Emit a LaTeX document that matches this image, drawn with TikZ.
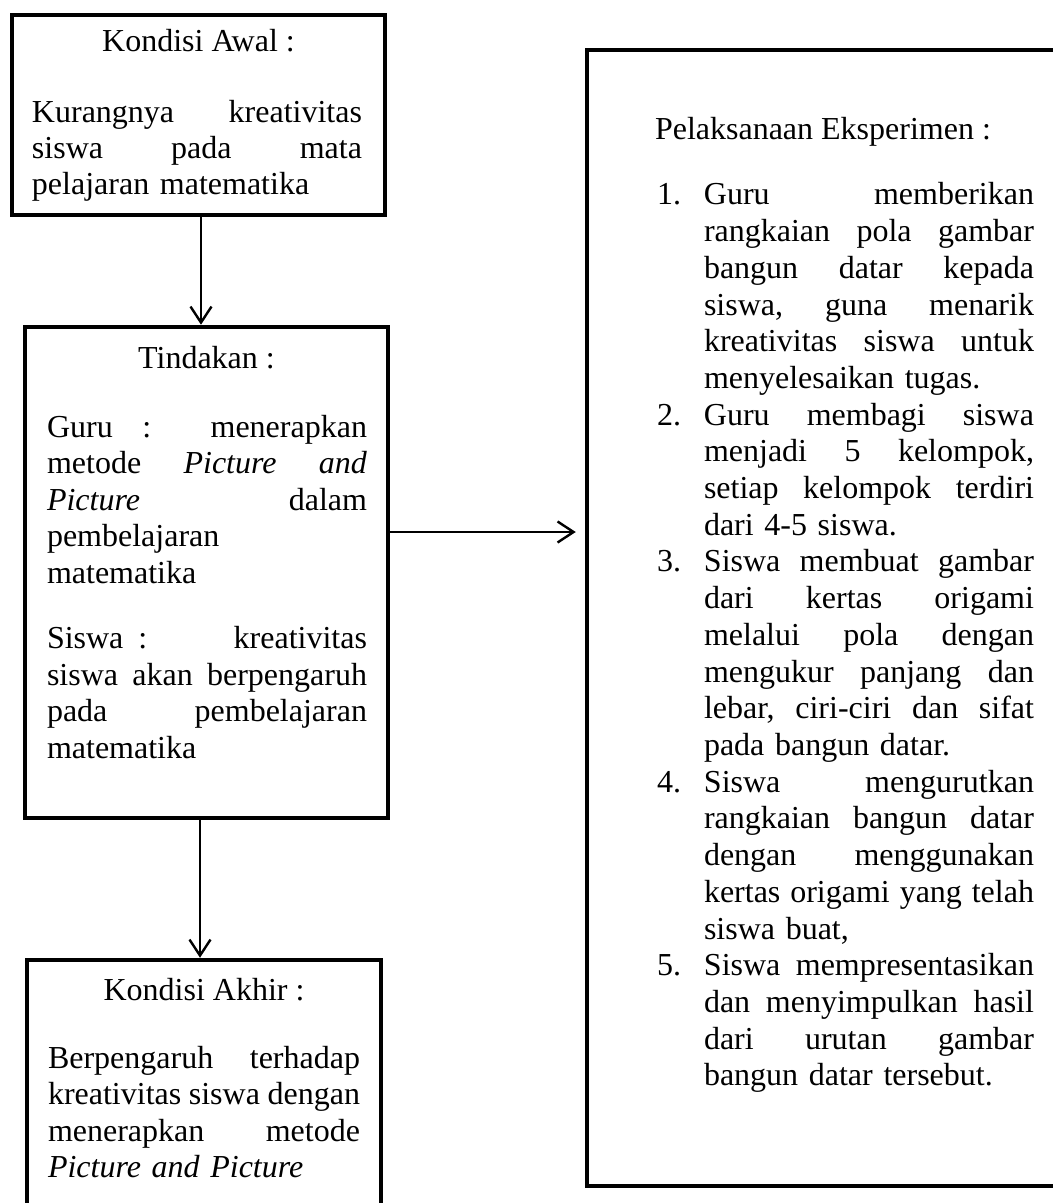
\documentclass[tikz,border=0pt]{standalone}
\usepackage{fontspec}
\setmainfont{Liberation Serif}
\usetikzlibrary{arrows.meta,fit}
\newcommand{\J}[2]{\leavevmode\hbox to #1{#2}}
\newcommand{\It}[2]{\leavevmode\hbox to 23.5pt{#1\hss}\hbox to 165pt{#2}}
\newcommand{\Ic}[1]{\leavevmode\hspace*{23.5pt}\hbox to 165pt{#1}}
\newcommand{\In}[1]{\leavevmode\hspace*{23.5pt}#1}
\tikzset{
  box/.style={draw, line width=2.25pt, inner sep=0pt},
  arr/.style={line width=1.2pt, -{Straight Barb[length=8pt,width=10.5pt]}},
  txt/.style={inner sep=0pt, outer sep=0pt, font=\fontsize{16pt}{18.3pt}\selectfont},
  body/.style={txt, anchor=base west, align=left},
  head/.style={txt, anchor=base},
}
\begin{document}
\begin{tikzpicture}[x=0.5pt,y=-0.5pt]
\useasboundingbox (0,0) rectangle (1053,1203);
\clip (0,0) rectangle (1053,1203);
% boxes
\node[box, fit={(12,15) (385,215)}] (b1) {};
\node[box, fit={(25,327) (388,818)}] (b2) {};
\node[box, fit={(27,960) (381,1225)}] (b3) {};
\node[box, fit={(587,50) (1080,1186)}] (rb) {};
% headings
\node[head] (h1) at (198.5,52) {Kondisi Awal :};
\node[head] (h2) at (206.5,368) {Tindakan :};
\node[head] (h3) at (204,1000) {Kondisi Akhir :};
\node[txt, anchor=base west] (h4) at (655,140) {Pelaksanaan Eksperimen :};
% bodies
\node[body, text width=165pt, font=\fontsize{16pt}{18pt}\selectfont] (t1) at (32,123)
  {\J{165pt}{Kurangnya\hfill kreativitas}\\
   \J{165pt}{siswa\hfill pada\hfill mata}\\
   pelajaran matematika};
\node[body, text width=160pt] (t2) at (47,437)
  {\J{160pt}{Guru\hfill:\hfill\hfill menerapkan}\\
   \J{160pt}{metode\hfill\textit{Picture\hfill and}}\\
   \J{160pt}{\textit{Picture}\hfill dalam}\\
   pembelajaran\\
   matematika\\[14.2pt]
   \J{160pt}{Siswa\hspace{7.5pt}:\hfill kreativitas}\\
   \J{160pt}{siswa\hfill akan\hfill berpengaruh}\\
   \J{160pt}{pada\hfill pembelajaran}\\
   matematika};
\node[body, text width=157pt] (t3) at (48,1068)
  {\J{156pt}{Berpengaruh\hfill terhadap}\\
   \J{156pt}{kreativitas\hfill siswa\hfill dengan}\\
   \J{156pt}{menerapkan\hfill metode}\\
   \textit{Picture and Picture}};
\node[body, text width=188.5pt, font=\fontsize{16pt}{18.35pt}\selectfont] (t4) at (657,205)
  {\It{1.}{Guru\hfill memberikan}\\
   \Ic{rangkaian\hfill pola\hfill gambar}\\
   \Ic{bangun\hfill datar\hfill kepada}\\
   \Ic{siswa,\hfill guna\hfill menarik}\\
   \Ic{kreativitas\hfill siswa\hfill untuk}\\
   \In{menyelesaikan tugas.}\\
   \It{2.}{Guru\hfill membagi\hfill siswa}\\
   \Ic{menjadi\hfill 5\hfill kelompok,}\\
   \Ic{setiap\hfill kelompok\hfill terdiri}\\
   \In{dari 4-5 siswa.}\\
   \It{3.}{Siswa\hfill membuat\hfill gambar}\\
   \Ic{dari\hfill kertas\hfill origami}\\
   \Ic{melalui\hfill pola\hfill dengan}\\
   \Ic{mengukur\hfill panjang\hfill dan}\\
   \Ic{lebar,\hfill ciri-ciri\hfill dan\hfill sifat}\\
   \In{pada bangun datar.}\\
   \It{4.}{Siswa\hfill mengurutkan}\\
   \Ic{rangkaian\hfill bangun\hfill datar}\\
   \Ic{dengan\hfill menggunakan}\\
   \Ic{kertas\hfill origami\hfill yang\hfill telah}\\
   \In{siswa buat,}\\
   \It{5.}{Siswa\hfill mempresentasikan}\\
   \Ic{dan\hfill menyimpulkan\hfill hasil}\\
   \Ic{dari\hfill urutan\hfill gambar}\\
   \In{bangun datar tersebut.}};
% connectors
\coordinate (c1) at (201,0);
\coordinate (c2) at (200,0);
\coordinate (c3) at (0,532);
\draw[arr] (b1.south -| c1) -- (b2.north -| c1);
\draw[arr] (b2.south -| c2) -- (b3.north -| c2);
\draw[arr, shorten >=4.5pt] (b2.east |- c3) -- (rb.west |- c3);
\end{tikzpicture}
\end{document}
